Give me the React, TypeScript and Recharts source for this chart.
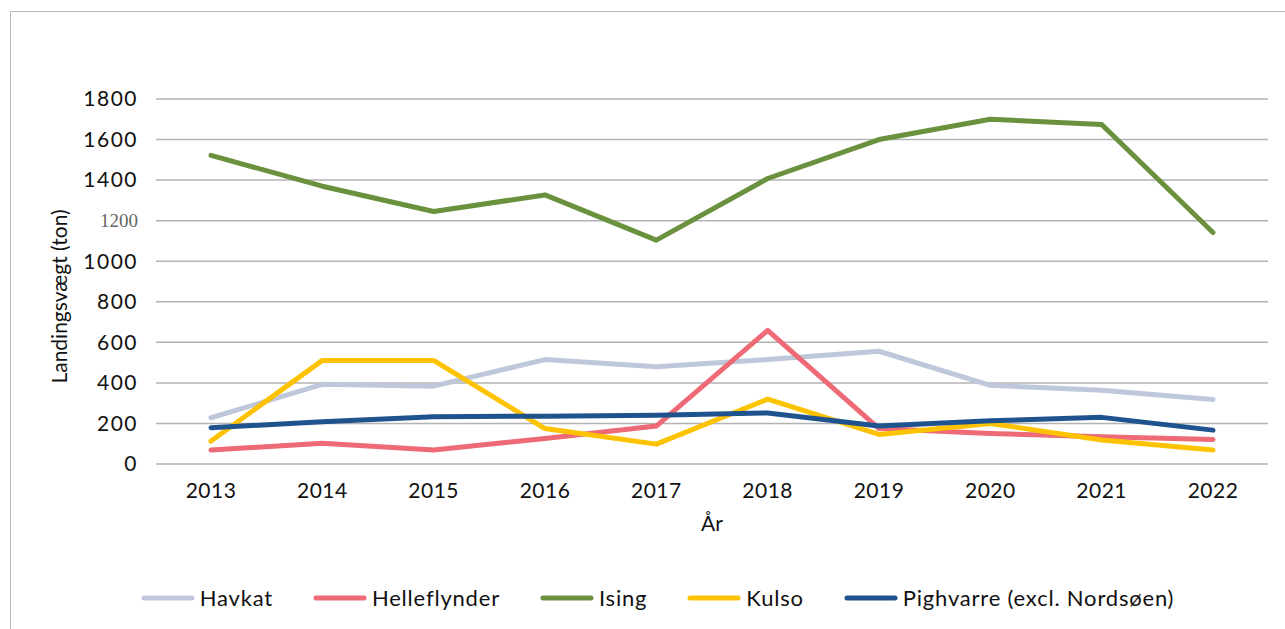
import React from "react";
import {
  LineChart,
  Line,
  XAxis,
  YAxis,
  CartesianGrid,
  Legend,
} from "recharts";

const years = ["2013", "2014", "2015", "2016", "2017", "2018", "2019", "2020", "2021", "2022"];
const havkat = [228, 393, 384, 515, 479, 515, 556, 388, 364, 318];
const helleflynder = [69, 102, 69, 126, 187, 659, 175, 151, 134, 121];
const ising = [1522, 1370, 1245, 1327, 1104, 1408, 1600, 1700, 1674, 1142];
const kulso = [113, 511, 511, 175, 98, 320, 146, 200, 118, 69];
const pighvarre = [179, 208, 233, 236, 241, 252, 187, 213, 230, 167];
const yTicks = [0, 200, 400, 600, 800, 1000, 1200, 1400, 1600, 1800];

const series = [
  { key: "Havkat", color: "#bfc8da" },
  { key: "Helleflynder", color: "#ee6a76" },
  { key: "Ising", color: "#6a913d" },
  { key: "Kulso", color: "#fdc200" },
  { key: "Pighvarre (excl. Nordsøen)", color: "#1f538d" },
];

const data = years.map((year, i) => ({
  year,
  Havkat: havkat[i],
  Helleflynder: helleflynder[i],
  Ising: ising[i],
  Kulso: kulso[i],
  "Pighvarre (excl. Nordsøen)": pighvarre[i],
}));

const FONT = "Lato, 'Open Sans', sans-serif";

// the 1200 label is drawn in a different face in the original
function YTick(props: any) {
  const { x, y, payload } = props;
  const odd = payload.value === 1200;
  return (
    <text
      x={x}
      y={y}
      dy="0.35em"
      textAnchor="end"
      fontSize={odd ? 19 : 21}
      letterSpacing={odd ? 0 : 1.5}
      fontFamily={odd ? "'Liberation Serif', 'DejaVu Serif', serif" : FONT}
      fill={odd ? "#666" : "#111"}
    >
      {payload.value}
    </text>
  );
}

function LegendRow(props: any) {
  const items = props.payload || [];
  return (
    <div
      style={{
        display: "flex",
        justifyContent: "center",
        paddingLeft: 30,
        fontFamily: FONT,
        fontSize: 22,
        letterSpacing: 0.8,
        color: "#111",
      }}
    >
      {items.map((p: any) => (
        <div key={p.value} style={{ display: "flex", alignItems: "center", margin: "0 20px" }}>
          <svg width={54} height={10} style={{ marginRight: 5 }}>
            <line x1={3} y1={5} x2={51} y2={5} stroke={p.color} strokeWidth={5} strokeLinecap="round" />
          </svg>
          <span>{p.value}</span>
        </div>
      ))}
    </div>
  );
}

export default function App() {
  return (
    <div
      style={{
        position: "absolute",
        left: 0,
        top: 0,
        width: 1285,
        height: 629,
        overflow: "hidden",
        background: "#fff",
      }}
    >
      <div
        style={{
          position: "absolute",
          left: 10,
          top: 11,
          width: 1300,
          height: 700,
          borderTop: "1.5px solid #b8b8b8",
          borderLeft: "1.5px solid #b8b8b8",
        }}
      />
      <LineChart
        width={1285}
        height={629}
        data={data}
        margin={{ top: 99, right: 17, left: 0, bottom: 116 }}
        style={{ position: "absolute", left: 0, top: 0 }}
      >
        <CartesianGrid vertical={false} stroke="#b3b3b3" strokeWidth={1.5} />
        <XAxis
          dataKey="year"
          height={49}
          axisLine={false}
          tickLine={false}
          tickMargin={13}
          padding={{ left: 55, right: 55 }}
          tick={{ fontSize: 21, fontFamily: FONT, fill: "#111", letterSpacing: 0.5 }}
          label={{ value: "År", position: "bottom", offset: 3, fontSize: 21, fontFamily: FONT, fill: "#111" }}
        />
        <YAxis
          width={156}
          domain={[0, 1800]}
          ticks={yTicks}
          axisLine={false}
          tickLine={false}
          tickMargin={12}
          tick={<YTick />}
          label={{
            value: "Landingsvægt (ton)",
            angle: -90,
            position: "center",
            dx: -18,
            dy: 15,
            fontSize: 21,
            fontFamily: FONT,
            fill: "#111",
          }}
        />
        <Legend
          verticalAlign="middle"
          content={<LegendRow />}
          wrapperStyle={{ position: "absolute", top: 584, left: 0, width: 1285 }}
        />
        {series.map((s) => (
          <Line
            key={s.key}
            dataKey={s.key}
            stroke={s.color}
            strokeWidth={5}
            strokeLinecap="round"
            strokeLinejoin="round"
            dot={false}
            activeDot={false}
            isAnimationActive={false}
          />
        ))}
      </LineChart>
    </div>
  );
}
